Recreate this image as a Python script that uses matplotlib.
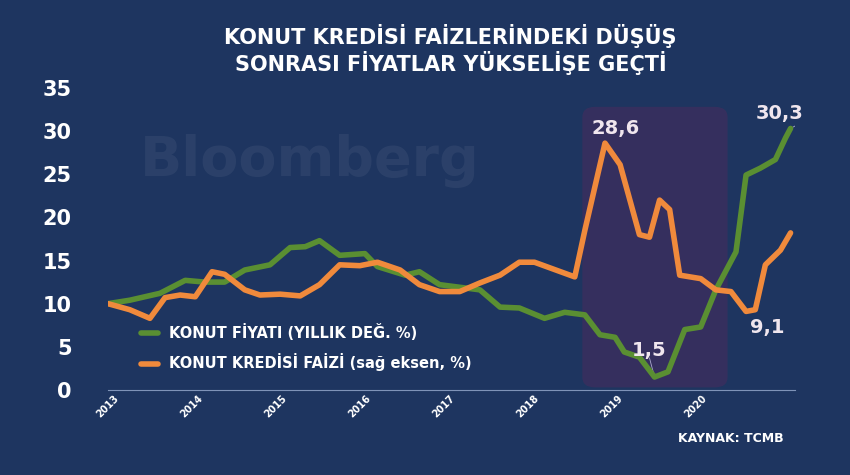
import matplotlib.pyplot as plt
from matplotlib.patches import FancyBboxPatch

BG = "#1e3560"
GREEN = "#5a8f32"
ORANGE = "#f08a3c"

# house price yoy (%), time in fractional years
price_t = [2013.0, 2013.26, 2013.62, 2013.92, 2014.15, 2014.39, 2014.63, 2014.93, 2015.17, 2015.35, 2015.52,
           2015.76, 2016.06, 2016.21, 2016.54, 2016.71, 2016.95, 2017.43, 2017.67, 2017.9, 2018.2, 2018.44,
           2018.68, 2018.86, 2019.04, 2019.15, 2019.33, 2019.51, 2019.67, 2019.87, 2020.06, 2020.24, 2020.48,
           2020.6, 2020.77, 2020.95, 2021.07, 2021.13]
price_v = [10.0, 10.4, 11.2, 12.7, 12.5, 12.5, 13.9, 14.5, 16.5, 16.6, 17.3,
           15.6, 15.8, 14.3, 13.3, 13.7, 12.2, 11.6, 9.6, 9.5, 8.3, 9.0,
           8.7, 6.4, 6.1, 4.4, 3.8, 1.5, 2.1, 7.0, 7.3, 11.6, 16.0,
           24.9, 25.7, 26.7, 29.2, 30.3]

# mortgage rate (%)
rate_t = [2013.0, 2013.26, 2013.5, 2013.68, 2013.86, 2014.04, 2014.24, 2014.39, 2014.63, 2014.81, 2015.05,
          2015.29, 2015.52, 2015.76, 2016.0, 2016.21, 2016.48, 2016.71, 2016.95, 2017.19, 2017.43, 2017.67,
          2017.9, 2018.08, 2018.56, 2018.68, 2018.92, 2019.1, 2019.33, 2019.45, 2019.57, 2019.69, 2019.81,
          2020.06, 2020.24, 2020.42, 2020.6, 2020.71, 2020.83, 2021.01, 2021.13]
rate_v = [10.0, 9.3, 8.3, 10.7, 11.0, 10.8, 13.7, 13.4, 11.6, 11.0, 11.1,
          10.9, 12.2, 14.5, 14.4, 14.8, 13.9, 12.2, 11.4, 11.4, 12.4, 13.3,
          14.8, 14.8, 13.1, 18.5, 28.6, 26.1, 18.0, 17.7, 22.0, 20.9, 13.3,
          12.9, 11.6, 11.4, 9.1, 9.3, 14.5, 16.2, 18.2]

years = [2013, 2014, 2015, 2016, 2017, 2018, 2019, 2020]

fig = plt.figure(figsize=(8.5, 4.75), dpi=100, facecolor=BG)
ax = fig.add_axes([0.127, 0.179, 0.808, 0.636], facecolor=BG)

fig.text(0.53, 0.925, "KONUT KREDİSİ FAİZLERİNDEKİ DÜŞÜŞ", ha="center", va="center",
         color="white", fontsize=15, fontweight="bold")
fig.text(0.53, 0.868, "SONRASI FİYATLAR YÜKSELİŞE GEÇTİ", ha="center", va="center",
         color="white", fontsize=15, fontweight="bold")

ax.text(2015.4, 26.5, "Bloomberg", color="white", alpha=0.06, fontsize=40,
        fontweight="bold", ha="center", va="center")

ax.add_patch(FancyBboxPatch((2018.65, 0.3), 1.73, 32.5, boxstyle="round,pad=0,rounding_size=0.15",
                            facecolor="#3a2f5e", edgecolor="none", alpha=0.85, zorder=1,
                            mutation_aspect=8))

ax.plot(price_t, price_v, color=GREEN, lw=4, zorder=3, solid_capstyle="round",
        label="KONUT FİYATI (YILLIK DEĞ. %)")
ax.plot(rate_t, rate_v, color=ORANGE, lw=4, zorder=4, solid_capstyle="round",
        label="KONUT KREDİSİ FAİZİ (sağ eksen, %)")

lbl = dict(color="#f0e6ee", fontsize=14, fontweight="bold", ha="center")
ax.text(2019.05, 29.6, "28,6", **lbl)
ax.text(2021.0, 31.4, "30,3", **lbl)
ax.plot([2021.13, 2021.3], [30.3, 31.2], color="#aac", lw=0.6)
ax.text(2020.85, 6.6, "9,1", **lbl)
ax.text(2019.45, 3.9, "1,5", **lbl)
ax.plot([2019.51, 2019.45], [1.5, 3.7], color="#aac", lw=0.6)

leg = ax.legend(loc="lower left", bbox_to_anchor=(0.03, 0.02), frameon=False,
                handlelength=1.2, labelspacing=0.9)
for t in leg.get_texts():
    t.set_color("white")
    t.set_fontweight("bold")
    t.set_fontsize(10.5)

ax.set_xlim(2013, 2021.18)
ax.set_ylim(0, 35)
ax.set_yticks(range(0, 36, 5))
ax.set_xticks(years)
ax.set_xticklabels([str(y) for y in years], rotation=45, color="white", fontsize=7, fontweight="bold")
ax.tick_params(axis="y", colors="white", labelsize=15, length=0, pad=26)
for t in ax.get_yticklabels():
    t.set_fontweight("bold")
ax.tick_params(axis="x", length=0, pad=2)
for s in ["top", "right", "left"]:
    ax.spines[s].set_visible(False)
ax.spines["bottom"].set_color("#7f93b8")

fig.text(0.86, 0.07, "KAYNAK: TCMB", color="white", fontsize=9, fontweight="bold", ha="center")

fig.savefig("out.png", dpi=100, facecolor=BG)
